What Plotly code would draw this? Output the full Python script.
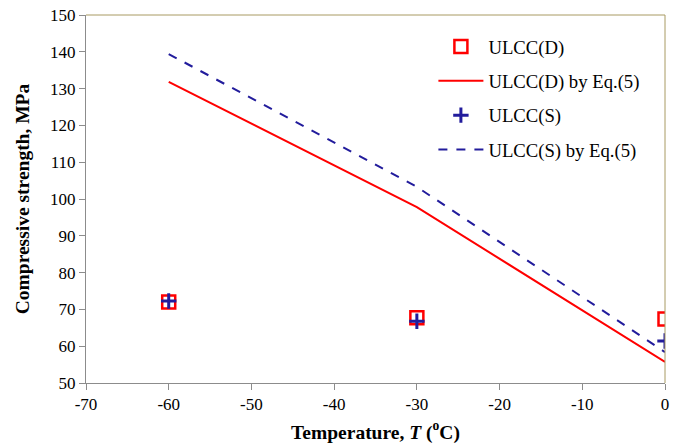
import plotly.graph_objects as go

temps = [-60, -30, 0]
ulcc_d = [72.0, 67.7, 67.4]
ulcc_s = [72.3, 66.8, 61.4]
ulcc_d_eq = [131.8, 97.8, 55.7]
ulcc_s_eq = [139.4, 103.3, 58.4]

x_ticks = [-70, -60, -50, -40, -30, -20, -10, 0]
x_labels = ["-70", "-60", "-50", "-40", "-30", "-20", "-10", "0"]
y_ticks = [50, 60, 70, 80, 90, 100, 110, 120, 130, 140, 150]

red = "#ff0000"
blue = "#221c9c"
axc = "#8c8c8c"
border = "#a89a62"
font = "Times New Roman, Liberation Serif, serif"

fig = go.Figure()
fig.add_trace(go.Scatter(x=temps, y=ulcc_d, mode="markers", name="ULCC(D)",
                         legendgroup="a",
                         marker=dict(symbol="square-open", size=13, color=red, line=dict(width=2.5, color=red))))
fig.add_trace(go.Scatter(x=temps, y=ulcc_d_eq, mode="lines", name="ULCC(D) by Eq.(5)",
                         legendgroup="b",
                         line=dict(color=red, width=2)))
fig.add_trace(go.Scatter(x=temps, y=ulcc_s, mode="markers", name="ULCC(S)",
                         legendgroup="c",
                         marker=dict(symbol="cross-thin-open", size=11, color=blue, line=dict(width=3, color=blue))))
fig.add_trace(go.Scatter(x=temps, y=ulcc_s_eq, mode="lines", name="ULCC(S) by Eq.(5)",
                         legendgroup="d",
                         line=dict(color=blue, width=2, dash="dash")))

fig.update_layout(
    width=679, height=447,
    margin=dict(l=86, r=14, t=15, b=64),
    paper_bgcolor="white", plot_bgcolor="white",
    font=dict(family=font, size=17, color="black"),
    showlegend=True,
    legend=dict(x=0.6, y=0.965, xanchor="left", yanchor="top",
                font=dict(family=font, size=18.7, color="black"), tracegroupgap=7,
                itemwidth=45, bgcolor="rgba(0,0,0,0)"),
    xaxis=dict(range=[-70, 0], tickvals=x_ticks, ticktext=x_labels, showgrid=False, zeroline=False,
               showline=True, linecolor=axc, linewidth=1, automargin=False,
               ticks="outside", ticklen=6, tickcolor=axc,
               tickfont=dict(family=font, size=17, color="black"),
               title=dict(text="<b>Temperature, <i>T</i> (<sup>o</sup>C)</b>",
                          font=dict(family=font, size=19.5, color="black"), standoff=11)),
    yaxis=dict(range=[50, 150], tickvals=y_ticks, showgrid=False, zeroline=False,
               showline=True, linecolor=axc, linewidth=1, automargin=False,
               ticks="outside", ticklen=6, tickcolor=axc, ticklabeloverflow="allow",
               tickfont=dict(family=font, size=17, color="black"),
               title=dict(text="<b>Compressive strength, MPa</b>",
                          font=dict(family=font, size=19.5, color="black"), standoff=15)),
    shapes=[
        dict(type="line", xref="paper", yref="paper", x0=0, x1=1, y0=1, y1=1, line=dict(color=border, width=1)),
        dict(type="line", xref="paper", yref="paper", x0=1, x1=1, y0=0, y1=1, line=dict(color=border, width=1)),
    ],
)
fig.write_html("out.html", config={"displayModeBar": False},
               post_script="document.body.style.margin='0';")
